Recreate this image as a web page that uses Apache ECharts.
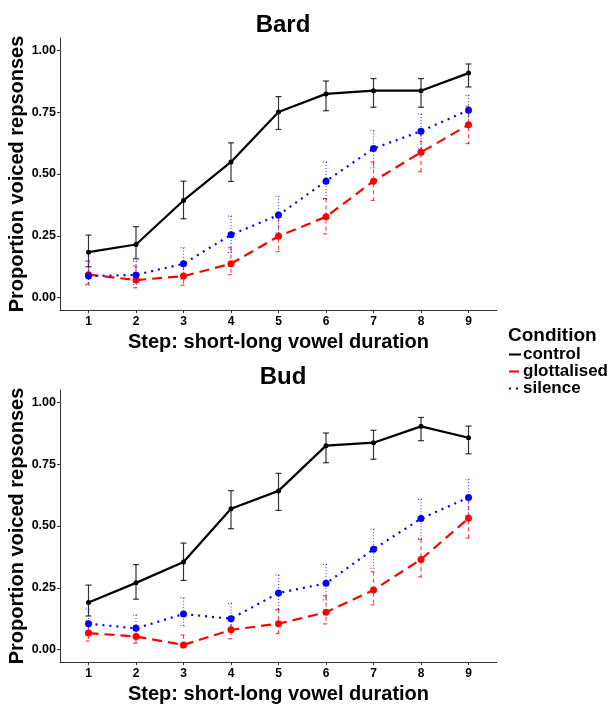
<!DOCTYPE html>
<html>
<head>
<meta charset="utf-8">
<script src="https://cdn.jsdelivr.net/npm/echarts@6/dist/echarts.min.js"></script>
<style>
  html, body { margin: 0; padding: 0; background: #fff; }
  #app { width: 609px; height: 704px; }
</style>
</head>
<body>
<div id="app"></div>
<script>
// steps on the vowel duration continuum
const steps = [1, 2, 3, 4, 5, 6, 7, 8, 9];
const conditions = ["control", "glottalised", "silence"];
const yTicks = [0, 0.25, 0.5, 0.75, 1];

// Bard panel: means and error bar ends
const bardControl = [0.184, 0.215, 0.393, 0.549, 0.751, 0.824, 0.837, 0.837, 0.908];
const bardControlLo = [0.125, 0.157, 0.319, 0.470, 0.680, 0.756, 0.770, 0.770, 0.852];
const bardControlHi = [0.253, 0.287, 0.471, 0.626, 0.813, 0.876, 0.886, 0.886, 0.945];
const bardGlott = [0.093, 0.071, 0.087, 0.137, 0.248, 0.327, 0.471, 0.588, 0.699];
const bardGlottLo = [0.054, 0.040, 0.050, 0.093, 0.186, 0.258, 0.393, 0.509, 0.623];
const bardGlottHi = [0.148, 0.128, 0.128, 0.202, 0.323, 0.401, 0.548, 0.666, 0.774];
const bardSilence = [0.087, 0.092, 0.137, 0.254, 0.334, 0.471, 0.603, 0.673, 0.758];
const bardSilenceLo = [0.051, 0.054, 0.074, 0.182, 0.262, 0.397, 0.525, 0.603, 0.696];
const bardSilenceHi = [0.148, 0.148, 0.202, 0.330, 0.410, 0.549, 0.676, 0.743, 0.818];

// Bud panel
const budControl = [0.191, 0.270, 0.354, 0.570, 0.642, 0.825, 0.837, 0.903, 0.857];
const budControlLo = [0.136, 0.204, 0.280, 0.489, 0.563, 0.756, 0.770, 0.845, 0.792];
const budControlHi = [0.261, 0.344, 0.431, 0.643, 0.713, 0.876, 0.887, 0.939, 0.904];
const budGlott = [0.067, 0.053, 0.019, 0.080, 0.105, 0.151, 0.241, 0.365, 0.531];
const budGlottLo = [0.035, 0.026, 0.008, 0.044, 0.065, 0.104, 0.181, 0.294, 0.451];
const budGlottHi = [0.116, 0.098, 0.059, 0.131, 0.163, 0.218, 0.315, 0.446, 0.608];
const budSilence = [0.105, 0.086, 0.144, 0.125, 0.229, 0.268, 0.406, 0.530, 0.615];
const budSilenceLo = [0.060, 0.046, 0.097, 0.080, 0.160, 0.201, 0.329, 0.450, 0.544];
const budSilenceHi = [0.164, 0.140, 0.210, 0.187, 0.302, 0.345, 0.487, 0.608, 0.689];

const FONT = "Liberation Sans";
const colors = { control: "#000000", glottalised: "#ff0000", silence: "#0000ff" };
const lineTypes = { control: "solid", glottalised: [10, 6], silence: [2, 5] };
const errDash = { control: null, glottalised: [4, 3], silence: [1, 2] };

function lineSeries(name, gi, values) {
  return {
    name: name,
    type: "line",
    xAxisIndex: gi,
    yAxisIndex: gi,
    data: steps.map((s, i) => [s, values[i]]),
    symbol: "circle",
    symbolSize: name === "control" ? 5 : 7,
    showSymbol: true,
    itemStyle: { color: colors[name] },
    lineStyle: { color: colors[name], width: 2.2, type: lineTypes[name] },
    z: 3,
    silent: true,
    animation: false
  };
}

function errSeries(name, gi, lo, hi) {
  const col = colors[name];
  const dash = errDash[name];
  return {
    name: name + " err",
    type: "custom",
    xAxisIndex: gi,
    yAxisIndex: gi,
    data: steps.map((s, i) => [s, lo[i], hi[i]]),
    encode: { x: 0, y: [1, 2] },
    z: 2,
    silent: true,
    animation: false,
    renderItem: function (params, api) {
      const x = api.value(0);
      const top = api.coord([x, api.value(2)]);
      const bot = api.coord([x, api.value(1)]);
      const w = 3;
      const st = { stroke: col, lineWidth: 1.2, lineDash: dash, opacity: name === "control" ? 0.8 : 0.7 };
      return {
        type: "group",
        children: [
          { type: "line", shape: { x1: top[0], y1: top[1], x2: bot[0], y2: bot[1] }, style: st },
          { type: "line", shape: { x1: top[0] - w, y1: top[1], x2: top[0] + w, y2: top[1] }, style: st },
          { type: "line", shape: { x1: bot[0] - w, y1: bot[1], x2: bot[0] + w, y2: bot[1] }, style: st }
        ]
      };
    }
  };
}

function xAxis(gi) {
  return {
    type: "value",
    gridIndex: gi,
    min: 0.4,
    max: 9.6,
    name: "Step: short-long vowel duration",
    nameLocation: "middle",
    nameGap: 22,
    nameMoveOverlap: false,
    nameTextStyle: { fontFamily: FONT, fontWeight: "bold", fontSize: 20, color: "#000" },
    axisLine: { onZero: false, lineStyle: { color: "#333", width: 1 } },
    axisTick: { show: true, customValues: steps, length: 3, lineStyle: { color: "#333" } },
    axisLabel: { customValues: steps, fontFamily: FONT, fontWeight: "bold", fontSize: 12, color: "#000", margin: 6 },
    splitLine: { show: false }
  };
}

function yAxis(gi) {
  return {
    type: "value",
    gridIndex: gi,
    min: -0.05,
    max: 1.05,
    name: "Proportion voiced repsonses",
    nameLocation: "middle",
    nameGap: 33,
    nameMoveOverlap: false,
    nameTextStyle: { fontFamily: FONT, fontWeight: "bold", fontSize: 20, color: "#000" },
    axisLine: { show: true, lineStyle: { color: "#333", width: 1 } },
    axisTick: { show: true, customValues: yTicks, length: 3, lineStyle: { color: "#333" } },
    axisLabel: {
      customValues: yTicks,
      formatter: v => v.toFixed(2),
      fontFamily: FONT, fontWeight: "bold", fontSize: 12.5, color: "#000", margin: 4
    },
    splitLine: { show: false }
  };
}

const chart = echarts.init(document.getElementById("app"), null, { renderer: "canvas" });

chart.setOption({
  backgroundColor: "#fff",
  animation: false,
  title: [
    { text: "Bard", left: 278, top: 8, textAlign: "center",
      textStyle: { fontFamily: FONT, fontWeight: "bold", fontSize: 24, color: "#000" } },
    { text: "Bud", left: 278, top: 360, textAlign: "center",
      textStyle: { fontFamily: FONT, fontWeight: "bold", fontSize: 24, color: "#000" } },
    { text: "Condition", left: 503, top: 321,
      textStyle: { fontFamily: FONT, fontWeight: "bold", fontSize: 19, color: "#000" } }
  ],
  legend: {
    data: conditions,
    orient: "vertical",
    left: 508,
    top: 346,
    padding: 0,
    itemWidth: 12,
    itemHeight: 14,
    itemGap: 0,
    itemStyle: { opacity: 0 },
    selectedMode: false,
    textStyle: { fontFamily: FONT, fontWeight: "bold", fontSize: 17, lineHeight: 14.5, color: "#000", padding: [0, 0, 0, -3] }
  },
  grid: [
    { left: 60, top: 38, width: 437, height: 272, outerBoundsMode: "none", containLabel: false },
    { left: 60, top: 390, width: 437, height: 272, outerBoundsMode: "none", containLabel: false }
  ],
  xAxis: [xAxis(0), xAxis(1)],
  yAxis: [yAxis(0), yAxis(1)],
  series: [
    errSeries("control", 0, bardControlLo, bardControlHi),
    errSeries("glottalised", 0, bardGlottLo, bardGlottHi),
    errSeries("silence", 0, bardSilenceLo, bardSilenceHi),
    lineSeries("control", 0, bardControl),
    lineSeries("glottalised", 0, bardGlott),
    lineSeries("silence", 0, bardSilence),
    errSeries("control", 1, budControlLo, budControlHi),
    errSeries("glottalised", 1, budGlottLo, budGlottHi),
    errSeries("silence", 1, budSilenceLo, budSilenceHi),
    lineSeries("control", 1, budControl),
    lineSeries("glottalised", 1, budGlott),
    lineSeries("silence", 1, budSilence)
  ]
});
</script>
</body>
</html>
